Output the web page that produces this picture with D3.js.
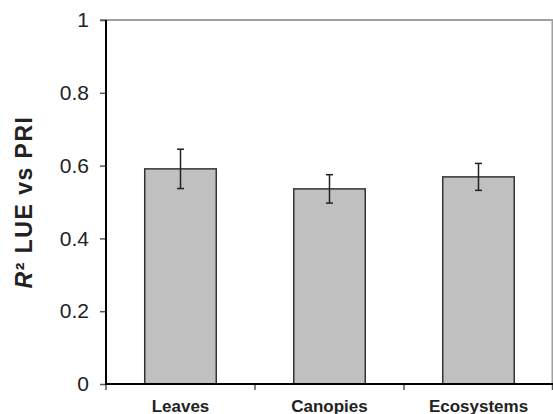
<!DOCTYPE html>
<html>
<head>
<meta charset="utf-8">
<script src="https://cdn.jsdelivr.net/npm/d3@7"></script>
<style>
  body { margin: 0; background: #fff; }
  text { font-family: "Liberation Sans", Arial, sans-serif; }
</style>
</head>
<body>
<div id="chart"></div>
<script>
// data
const categories = ["Leaves", "Canopies", "Ecosystems"];
const r2Values = [0.591, 0.536, 0.569];
const r2Errors = [0.054, 0.039, 0.037];
const yTicks = [0, 0.2, 0.4, 0.6, 0.8, 1];

const W = 553, H = 414;
const plot = { left: 106, right: 553, top: 20, bottom: 384 };

const svg = d3.select("#chart").append("svg")
  .attr("width", W)
  .attr("height", H);

const x = d3.scaleBand()
  .domain(categories)
  .range([plot.left, plot.right])
  .paddingInner(0.52)
  .paddingOuter(0.26);

const y = d3.scaleLinear()
  .domain([0, 1])
  .range([plot.bottom, plot.top]);

// top and right frame (grey)
svg.append("line")
  .attr("x1", plot.left - 6).attr("x2", plot.right)
  .attr("y1", y(1)).attr("y2", y(1))
  .attr("stroke", "#808080").attr("stroke-width", 1.5);
svg.append("line")
  .attr("x1", plot.right - 0.75).attr("x2", plot.right - 0.75)
  .attr("y1", y(1)).attr("y2", y(0))
  .attr("stroke", "#a0a0a0").attr("stroke-width", 1.5);

// bars
const data = categories.map((c, i) => ({ cat: c, v: r2Values[i], e: r2Errors[i] }));

svg.selectAll("rect.bar")
  .data(data)
  .join("rect")
  .attr("class", "bar")
  .attr("x", d => x(d.cat))
  .attr("y", d => y(d.v))
  .attr("width", x.bandwidth())
  .attr("height", d => y(0) - y(d.v))
  .attr("fill", "#c0c0c0")
  .attr("stroke", "#333")
  .attr("stroke-width", 1.5);

// error bars
const eb = svg.selectAll("g.err")
  .data(data)
  .join("g")
  .attr("class", "err")
  .attr("stroke", "#222")
  .attr("stroke-width", 1.5);

eb.append("line")
  .attr("x1", d => x(d.cat) + x.bandwidth() / 2)
  .attr("x2", d => x(d.cat) + x.bandwidth() / 2)
  .attr("y1", d => y(d.v + d.e))
  .attr("y2", d => y(d.v - d.e));
eb.append("line")
  .attr("x1", d => x(d.cat) + x.bandwidth() / 2 - 3.5)
  .attr("x2", d => x(d.cat) + x.bandwidth() / 2 + 3.5)
  .attr("y1", d => y(d.v + d.e))
  .attr("y2", d => y(d.v + d.e));
eb.append("line")
  .attr("x1", d => x(d.cat) + x.bandwidth() / 2 - 3.5)
  .attr("x2", d => x(d.cat) + x.bandwidth() / 2 + 3.5)
  .attr("y1", d => y(d.v - d.e))
  .attr("y2", d => y(d.v - d.e));

// y axis
const yAxis = svg.append("g")
  .attr("transform", `translate(${plot.left},0)`)
  .call(d3.axisLeft(y).tickValues(yTicks).tickSize(6).tickPadding(11)
    .tickFormat(d => d === 0 || d === 1 ? d3.format("d")(d) : d3.format(".1f")(d)));
yAxis.select(".domain").remove();
yAxis.selectAll(".tick line").attr("stroke", "#555").attr("stroke-width", 1.5);
yAxis.selectAll(".tick text")
  .attr("font-size", 21)
  .attr("fill", "#222")
  .attr("font-family", "'Liberation Sans', Arial, sans-serif");
svg.append("line")
  .attr("x1", plot.left).attr("x2", plot.left)
  .attr("y1", y(1)).attr("y2", y(0) + 1)
  .attr("stroke", "#000").attr("stroke-width", 2);

// x axis with ticks at category boundaries
const bounds = categories.map(c => x(c) - x.step() * x.paddingInner() / 2);
bounds.push(plot.right - 0.5);
svg.selectAll("line.xtick")
  .data(bounds)
  .join("line")
  .attr("class", "xtick")
  .attr("x1", d => d).attr("x2", d => d)
  .attr("y1", y(0)).attr("y2", y(0) + 6)
  .attr("stroke", "#555").attr("stroke-width", 1.5);
svg.append("line")
  .attr("x1", plot.left - 1).attr("x2", plot.right)
  .attr("y1", y(0)).attr("y2", y(0))
  .attr("stroke", "#000").attr("stroke-width", 2);

svg.selectAll("text.xlab")
  .data(categories)
  .join("text")
  .attr("class", "xlab")
  .attr("x", d => x(d) + x.bandwidth() / 2)
  .attr("y", 412)
  .attr("text-anchor", "middle")
  .attr("font-size", 17)
  .attr("font-weight", "bold")
  .attr("fill", "#222")
  .text(d => d);

// y axis title
const yt = svg.append("text")
  .attr("transform", "translate(32,202) rotate(-90)")
  .attr("text-anchor", "middle")
  .attr("font-size", 23)
  .attr("font-weight", "bold")
  .attr("letter-spacing", 1.5)
  .attr("fill", "#222");
yt.append("tspan").attr("font-style", "italic").text("R");
yt.append("tspan").text("\u00B2 LUE vs PRI");
</script>
</body>
</html>
